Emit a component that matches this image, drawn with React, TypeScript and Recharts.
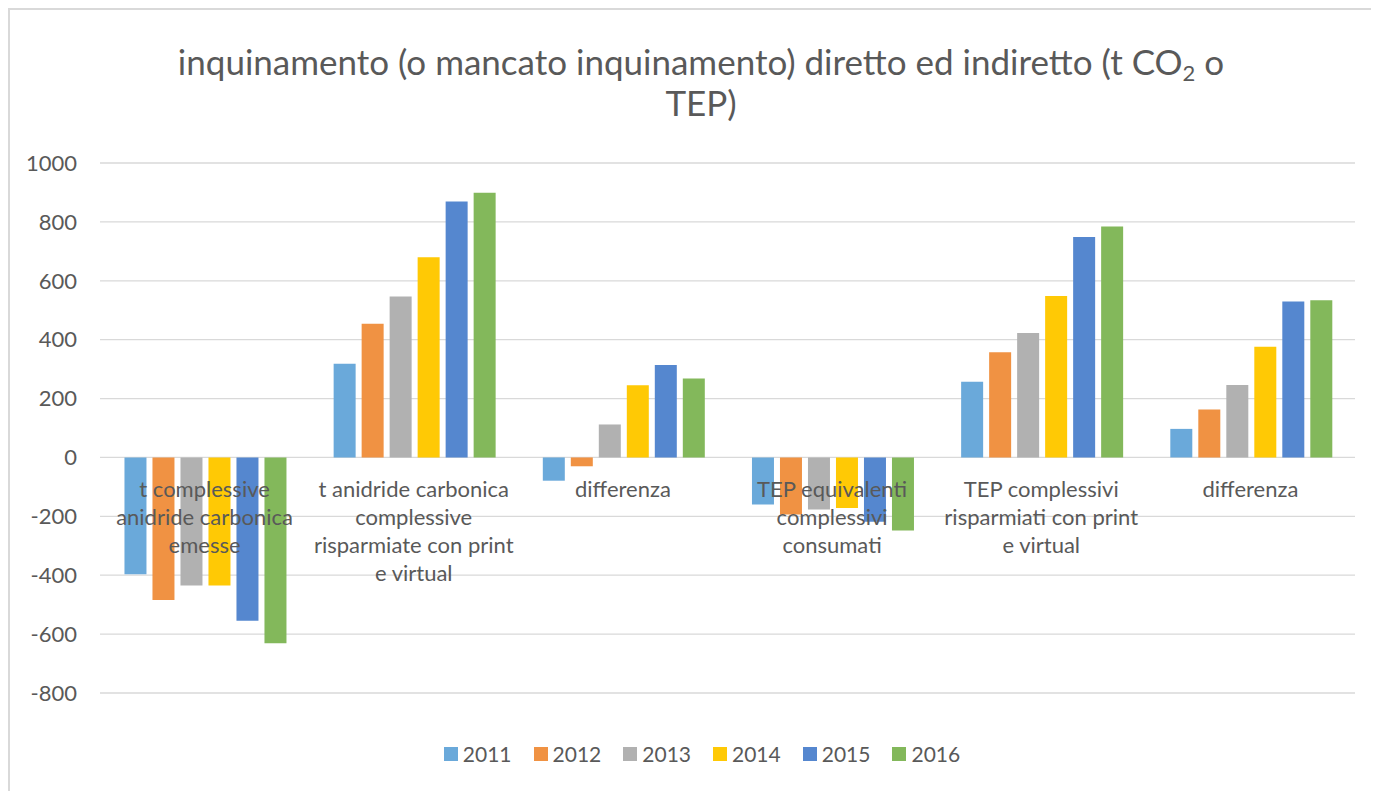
import React from 'react';
import { BarChart, Bar, XAxis, YAxis, CartesianGrid } from 'recharts';

const categories: string[][] = [
  ['t complessive', 'anidride carbonica', 'emesse'],
  ['t anidride carbonica', 'complessive', 'risparmiate con print', 'e virtual'],
  ['differenza'],
  ['TEP equivalenti', 'complessivi', 'consumati'],
  ['TEP complessivi', 'risparmiati con print', 'e virtual'],
  ['differenza'],
];

const years = ['2011', '2012', '2013', '2014', '2015', '2016'];
const v2011 = [-397, 318, -79, -160, 257, 97];
const v2012 = [-484, 454, -30, -194, 357, 163];
const v2013 = [-435, 547, 112, -177, 423, 246];
const v2014 = [-435, 680, 245, -172, 548, 376];
const v2015 = [-555, 869, 314, -218, 749, 530];
const v2016 = [-631, 899, 268, -248, 784, 534];
const seriesValues = [v2011, v2012, v2013, v2014, v2015, v2016];
const colors = ['#6AA9DA', '#F09243', '#B1B1B1', '#FFC905', '#5587CF', '#83B85B'];
const yTicks = [-800, -600, -400, -200, 0, 200, 400, 600, 800, 1000];
const Y_MIN = -800;
const Y_MAX = 1000;

const data = categories.map((lines, i) => {
  const row: Record<string, number | string> = { cat: String(i) };
  years.forEach((y, s) => {
    row[y] = seriesValues[s][i];
  });
  return row;
});

const FONT = 'Lato, "Open Sans", sans-serif';
const TEXT = '#595959';
const CHART_W = 1380;
const CHART_H = 781;
const MARGIN = { top: 153, right: 35, bottom: 97, left: 20 };
const PLOT_H = CHART_H - MARGIN.top - MARGIN.bottom - 1;

const renderCategoryTick = (props: any) => {
  const { x, y, payload } = props;
  const lines = categories[Number(payload.value)] || [];
  const zeroY = y - (PLOT_H * (0 - Y_MIN)) / (Y_MAX - Y_MIN);
  return (
    <text x={x} y={zeroY + 40} textAnchor="middle" fill={TEXT} fontSize={22} fontFamily={FONT}>
      {lines.map((l, i) => (
        <tspan key={i} x={x} dy={i === 0 ? 0 : 28}>
          {l}
        </tspan>
      ))}
    </text>
  );
};

export default function App() {
  return (
    <div
      style={{
        position: 'relative',
        width: 1382,
        height: 783,
        borderTop: '2px solid #d9d9d9',
        borderLeft: '2px solid #d9d9d9',
        overflow: 'hidden',
        background: '#fff',
        fontFamily: FONT,
      }}
    >
      <div
        style={{
          position: 'absolute',
          top: 31,
          left: 0,
          width: 1382,
          textAlign: 'center',
          fontSize: 35,
          lineHeight: '41px',
          color: TEXT,
        }}
      >
        inquinamento (o mancato inquinamento) diretto ed indiretto (t CO
        <sub style={{ fontSize: 22, verticalAlign: '-6px', lineHeight: 0 }}>2</sub> o
        <br />
        TEP)
      </div>
      <BarChart
        width={CHART_W}
        height={CHART_H}
        data={data}
        margin={MARGIN}
        barCategoryGap="11.7%"
        barGap={6}
      >
        <CartesianGrid vertical={false} stroke="#d9d9d9" strokeWidth={1.3} />
        <YAxis
          type="number"
          domain={[Y_MIN, Y_MAX]}
          ticks={yTicks}
          width={70}
          axisLine={false}
          tickLine={false}
          tickSize={0}
          tickMargin={23}
          interval={0}
          tick={{ fill: TEXT, fontSize: 22, fontFamily: FONT }}
        />
        {years.map((y, s) => (
          <Bar key={y} dataKey={y} fill={colors[s]} isAnimationActive={false} />
        ))}
        <XAxis
          dataKey="cat"
          height={1}
          axisLine={false}
          tickLine={false}
          tickSize={0}
          tickMargin={0}
          interval={0}
          tick={renderCategoryTick}
        />
      </BarChart>
      <div
        style={{
          position: 'absolute',
          top: 731,
          left: 1,
          width: 1382,
          display: 'flex',
          justifyContent: 'center',
          gap: 22,
          fontSize: 21,
          color: TEXT,
        }}
      >
        {years.map((y, s) => (
          <div key={y} style={{ display: 'flex', alignItems: 'center' }}>
            <span style={{ width: 14, height: 14, background: colors[s], marginRight: 5, display: 'inline-block' }} />
            <span>{y}</span>
          </div>
        ))}
      </div>
    </div>
  );
}
